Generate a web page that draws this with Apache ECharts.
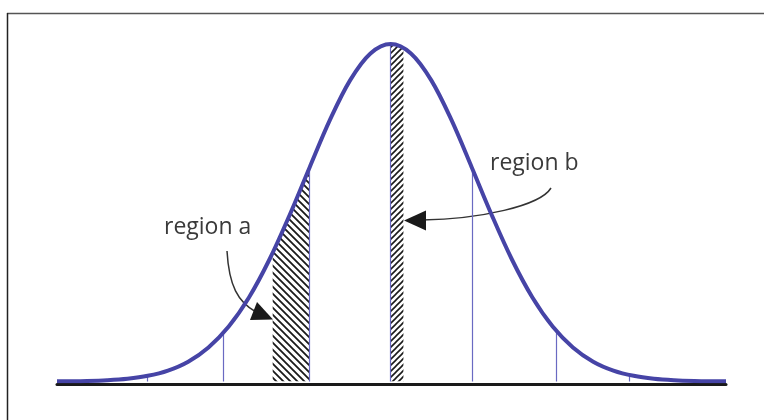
<!DOCTYPE html>
<html>
<head>
<meta charset="utf-8">
<script src="https://cdn.jsdelivr.net/npm/echarts@6/dist/echarts.min.js"></script>
<style>
  html, body { margin: 0; padding: 0; background: #fff; }
  #chart { width: 764px; height: 420px; }
</style>
</head>
<body>
<div id="chart"></div>
<script>
// curve heights (x in units of the line spacing, height relative to the peak)
const curveX = [-4.12, -4, -3.75, -3.5, -3.25, -3, -2.75, -2.5, -2.25, -2, -1.75, -1.5, -1.25, -1, -0.75, -0.5, -0.25, 0,
  0.25, 0.5, 0.75, 1, 1.25, 1.5, 1.75, 2, 2.25, 2.5, 2.75, 3, 3.25, 3.5, 3.75, 4, 4.14];
const curveY = [0.0004, 0.0007, 0.0017, 0.0039, 0.0083, 0.0169, 0.0324, 0.0588, 0.101, 0.163, 0.249, 0.36, 0.492, 0.635, 0.775, 0.893, 0.972, 1,
  0.972, 0.893, 0.775, 0.635, 0.492, 0.36, 0.249, 0.163, 0.101, 0.0588, 0.0324, 0.0169, 0.0083, 0.0039, 0.0017, 0.0007, 0.0004];

// vertical guide lines: position and height where they meet the curve
const guideX = [-3, -2.07, -1, 0, 1.01, 2.04, 2.94];
const guideY = [0.017, 0.15, 0.635, 1, 0.625, 0.148, 0.02];

// hatched regions
const regionAX = [-1.457, -1.35, -1.25, -1.125, -1.0];
const regionAY = [0.382, 0.4376, 0.492, 0.563, 0.635];
const regionBX = [0, 0.08, 0.157];
const regionBY = [1, 0.997, 0.989];

const labelA = "region a";
const labelB = "region b";

const blue = "#4644a6";

function hatch(size, forward, width) {
  const c = document.createElement("canvas");
  c.width = c.height = size;
  const g = c.getContext("2d");
  g.strokeStyle = "#1a1a1a";
  g.lineWidth = width;
  g.beginPath();
  if (forward) {
    g.moveTo(-1, size + 1); g.lineTo(size + 1, -1);
    g.moveTo(-1, 1); g.lineTo(1, -1);
    g.moveTo(size - 1, size + 1); g.lineTo(size + 1, size - 1);
  } else {
    g.moveTo(-1, -1); g.lineTo(size + 1, size + 1);
    g.moveTo(size - 1, -1); g.lineTo(size + 1, 1);
    g.moveTo(-1, size - 1); g.lineTo(1, size + 1);
  }
  g.stroke();
  return c;
}

const zip = (xs, ys) => xs.map((x, i) => [x, ys[i]]);

const chart = echarts.init(document.getElementById("chart"));

const option = {
  animation: false,
  backgroundColor: "#fff",
  grid: { left: 57, right: 38, top: 44, bottom: 38.5 },
  xAxis: {
    type: "value",
    min: -4.12,
    max: 4.14,
    axisLine: { show: true, onZero: false, lineStyle: { color: "#1a1a1a", width: 3 } },
    offset: 2.5,
    axisTick: { show: false },
    axisLabel: { show: false },
    splitLine: { show: false },
  },
  yAxis: { type: "value", min: 0, max: 1, show: false },
  series: [
    {
      type: "line",
      data: zip(regionAX, regionAY),
      showSymbol: false,
      lineStyle: { width: 0 },
      areaStyle: { color: { image: hatch(7, false, 1.8), repeat: "repeat" }, opacity: 1 },
      z: 1,
      silent: true,
    },
    {
      type: "line",
      data: zip(regionBX, regionBY),
      showSymbol: false,
      lineStyle: { width: 0 },
      areaStyle: { color: { image: hatch(6, true, 1.6), repeat: "repeat" }, opacity: 1 },
      z: 1,
      silent: true,
    },
    {
      type: "line",
      data: zip(curveX, curveY),
      showSymbol: false,
      smooth: 0.35,
      lineStyle: { color: blue, width: 4 },
      z: 4,
      silent: true,
      markLine: {
        silent: true,
        symbol: "none",
        label: { show: false },
        lineStyle: { color: "#6a6ac2", width: 1.2, type: "solid" },
        data: guideX.map((x, i) => [{ coord: [x, 0] }, { coord: [x, guideY[i]] }]),
        z: 3,
      },
    },
  ],
  graphic: [
    // frame
    { type: "line", shape: { x1: 7, y1: 13.5, x2: 764, y2: 13.5 }, style: { stroke: "#555", lineWidth: 1.5 } },
    { type: "line", shape: { x1: 7.5, y1: 13, x2: 7.5, y2: 420 }, style: { stroke: "#222", lineWidth: 1.5 } },
    // labels
    { type: "text", left: 164, top: 216, style: { text: labelA, font: "23px 'Open Sans'", fill: "#3a3a3a" } },
    { type: "text", left: 490, top: 152, style: { text: labelB, font: "23px 'Open Sans'", fill: "#3a3a3a" } },
    // arrows
    {
      type: "bezierCurve",
      shape: { x1: 227, y1: 251, cpx1: 229, cpy1: 286, cpx2: 238, cpy2: 302, x2: 256, y2: 312 },
      style: { stroke: "#333", lineWidth: 1.5, fill: null },
    },
    { type: "polygon", shape: { points: [[273, 319.5], [250, 320], [257, 302]] }, style: { fill: "#1a1a1a" } },
    {
      type: "bezierCurve",
      shape: { x1: 551, y1: 188, cpx1: 540, cpy1: 206, cpx2: 480, cpy2: 219, x2: 422, y2: 220 },
      style: { stroke: "#333", lineWidth: 1.5, fill: null },
    },
    { type: "polygon", shape: { points: [[404, 220.5], [426, 210.5], [426, 230.5]] }, style: { fill: "#1a1a1a" } },
  ],
};

chart.setOption(option);
</script>
</body>
</html>
